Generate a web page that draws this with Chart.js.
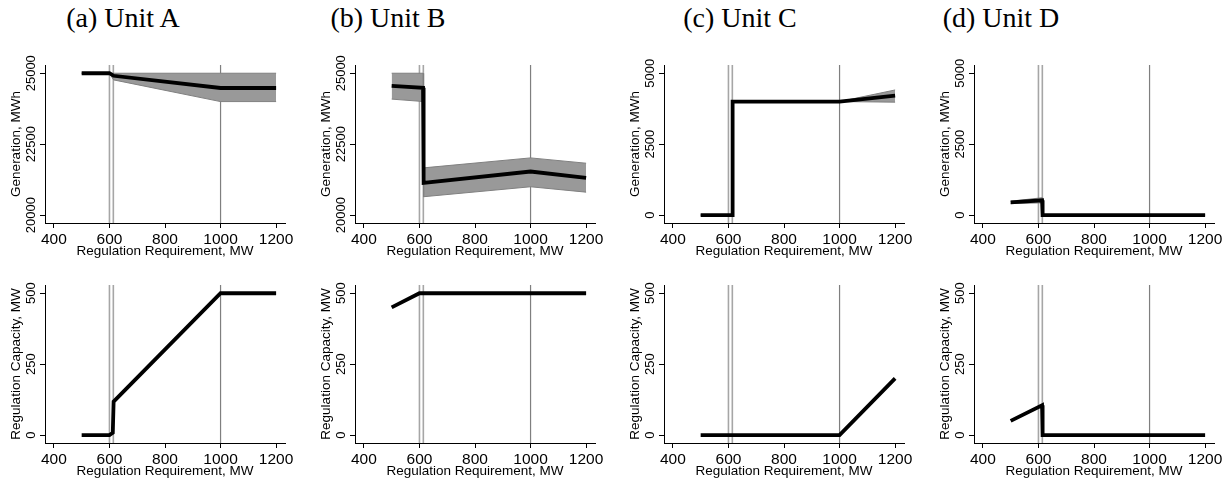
<!DOCTYPE html>
<html>
<head>
<meta charset="utf-8">
<script src="https://cdn.jsdelivr.net/npm/chart.js@4.4.1/dist/chart.umd.min.js"></script>
<style>
body{margin:0;background:#fff;width:1225px;height:480px;position:relative;overflow:hidden;}
.titulo{position:absolute;top:2px;font-family:"Liberation Serif","Times New Roman",serif;font-size:28px;transform:translateX(-50%);white-space:nowrap;color:#000;}
canvas{position:absolute;}
</style>
</head>
<body>
<div class="titulo" style="left:123px">(a) Unit A</div>
<div class="titulo" style="left:388px">(b) Unit B</div>
<div class="titulo" style="left:740px">(c) Unit C</div>
<div class="titulo" style="left:1001px">(d) Unit D</div>

<canvas id="genA" width="305" height="219" style="left:0px;top:40px"></canvas>
<canvas id="genB" width="305" height="219" style="left:310px;top:40px"></canvas>
<canvas id="genC" width="305" height="219" style="left:619px;top:40px"></canvas>
<canvas id="genD" width="305" height="219" style="left:929px;top:40px"></canvas>
<canvas id="capA" width="305" height="219" style="left:0px;top:260px"></canvas>
<canvas id="capB" width="305" height="219" style="left:310px;top:260px"></canvas>
<canvas id="capC" width="305" height="219" style="left:619px;top:260px"></canvas>
<canvas id="capD" width="305" height="219" style="left:929px;top:260px"></canvas>

<script>
// eixos
const xTicks = [400, 600, 800, 1000, 1200];
const refLines = [600, 614, 1000];
const genTicksAB = [20000, 22500, 25000];
const genTicksCD = [0, 2500, 5000];
const capTicks = [0, 250, 500];

// Unit A
const genA_x = [500, 600, 615, 1000, 1200];
const genA = [25000, 25000, 24910, 24480, 24480];
const genA_lo = [25000, 25000, 24765, 24000, 24000];
const genA_hi = [25000, 25000, 25000, 25000, 25000];
const capA_x = [500, 600, 612, 615, 1000, 1200];
const capA = [0, 0, 8, 118, 500, 500];

// Unit B
const genB_x = [500, 613, 615, 1000, 1200];
const genB = [24555, 24485, 21138, 21535, 21313];
const genB_lo = [24087, 24003, 20646, 20997, 20807];
const genB_hi = [25000, 25000, 21664, 22015, 21828];
const capB_x = [500, 600, 1200];
const capB = [450, 500, 500];

// Unit C
const genC_x = [500, 613, 615, 1000, 1200];
const genC = [0, 0, 4000, 4000, 4210];
const genC_lo = [0, 0, 4000, 4000, 3980];
const genC_hi = [0, 0, 4000, 4000, 4410];
const capC_x = [500, 1000, 1200];
const capC = [0, 0, 200];

// Unit D
const genD_x = [500, 613, 615, 1200];
const genD = [450, 520, 0, 0];
const genD_lo = [405, 430, 0, 0];
const genD_hi = [490, 610, 0, 0];
const capD_x = [500, 613, 615, 1200];
const capD = [50, 105, 0, 0];

const fonte = '"Liberation Sans", Arial, sans-serif';

// linhas verticais cinzentas
const linhasRef = {
    id: 'linhasRef',
    beforeDatasetsDraw(chart) {
        let c = chart.ctx;
        let a = chart.chartArea;
        let x = chart.scales.x;
        refLines.forEach(function(v, i) {
            let px = x.getPixelForValue(v);
            c.save();
            c.strokeStyle = i < 2 ? '#a6a6a6' : '#7f7f7f';
            c.lineWidth = i < 2 ? 1.6 : 1.2;
            c.beginPath();
            c.moveTo(px, a.top);
            c.lineTo(px, a.bottom);
            c.stroke();
            c.restore();
        });
    }
};

function pontos(xs, ys) {
    return xs.map(function(x, i) { return {x: x, y: ys[i]}; });
}

function larguraTexto(lista) {
    let ctx = document.createElement('canvas').getContext('2d');
    ctx.font = '13px ' + fonte;
    return Math.max.apply(null, lista.map(function(t) { return ctx.measureText(String(t)).width; }));
}

function criaPainel(id, xs, ys, lo, hi, yTicks, yMin, yMax, yTitulo) {

    let datasets = [{
        data: pontos(xs, ys),
        borderColor: '#000',
        borderWidth: 3.8,
        pointRadius: 0,
        tension: 0,
        fill: false
    }];

    if (lo) {
        datasets.push({
            data: pontos(xs, lo),
            borderColor: '#808080',
            borderWidth: 1,
            pointRadius: 0,
            fill: false
        });
        datasets.push({
            data: pontos(xs, hi),
            borderColor: '#808080',
            borderWidth: 1,
            pointRadius: 0,
            fill: '-1',
            backgroundColor: '#999999'
        });
    }

    new Chart(document.getElementById(id), {
        type: 'line',
        data: { datasets: datasets },
        plugins: [linhasRef],
        options: {
            responsive: false,
            animation: false,
            layout: { padding: { top: 25, right: 20, left: 0, bottom: 0 } },
            plugins: { legend: { display: false }, tooltip: { enabled: false } },
            scales: {
                x: {
                    type: 'linear',
                    min: 368,
                    max: 1232,
                    afterBuildTicks: function(s) { s.ticks = xTicks.map(function(v) { return {value: v}; }); },
                    afterFit: function(s) { s.height = 36; },
                    grid: { display: true, drawOnChartArea: false, drawTicks: true, tickLength: 5, color: '#000', tickColor: '#000' },
                    border: { display: true, color: '#000', width: 1 },
                    ticks: { font: { family: fonte, size: 15.5 }, color: '#000', padding: 2, maxRotation: 0, autoSkip: false,
                        callback: function(v) { return String(v); } },
                    title: { display: true, text: 'Regulation Requirement, MW', font: { family: fonte, size: 13.5 }, color: '#000',
                        padding: { top: 0, bottom: 0 } }
                },
                y: {
                    type: 'linear',
                    min: yMin,
                    max: yMax,
                    afterBuildTicks: function(s) { s.ticks = yTicks.map(function(v) { return {value: v}; }); },
                    afterFit: function(s) { s.width = 45; },
                    grid: { display: true, drawOnChartArea: false, drawTicks: true, tickLength: 5, color: '#000', tickColor: '#000' },
                    border: { display: true, color: '#000', width: 1 },
                    ticks: { font: { family: fonte, size: 13 }, color: '#000', minRotation: 90, maxRotation: 90,
                        crossAlign: 'center', padding: 9 - larguraTexto(yTicks) / 2, autoSkip: false,
                        callback: function(v) { return String(v); } },
                    title: { display: true, text: yTitulo, font: { family: fonte, size: 13.5 }, color: '#000',
                        padding: { top: 8, bottom: 0 } }
                }
            }
        }
    });
}

criaPainel('genA', genA_x, genA, genA_lo, genA_hi, genTicksAB, 19720, 25290, 'Generation, MWh');
criaPainel('genB', genB_x, genB, genB_lo, genB_hi, genTicksAB, 19720, 25290, 'Generation, MWh');
criaPainel('genC', genC_x, genC, genC_lo, genC_hi, genTicksCD, -280, 5290, 'Generation, MWh');
criaPainel('genD', genD_x, genD, genD_lo, genD_hi, genTicksCD, -280, 5290, 'Generation, MWh');

criaPainel('capA', capA_x, capA, null, null, capTicks, -28, 529, 'Regulation Capacity, MW');
criaPainel('capB', capB_x, capB, null, null, capTicks, -28, 529, 'Regulation Capacity, MW');
criaPainel('capC', capC_x, capC, null, null, capTicks, -28, 529, 'Regulation Capacity, MW');
criaPainel('capD', capD_x, capD, null, null, capTicks, -28, 529, 'Regulation Capacity, MW');
</script>
</body>
</html>
